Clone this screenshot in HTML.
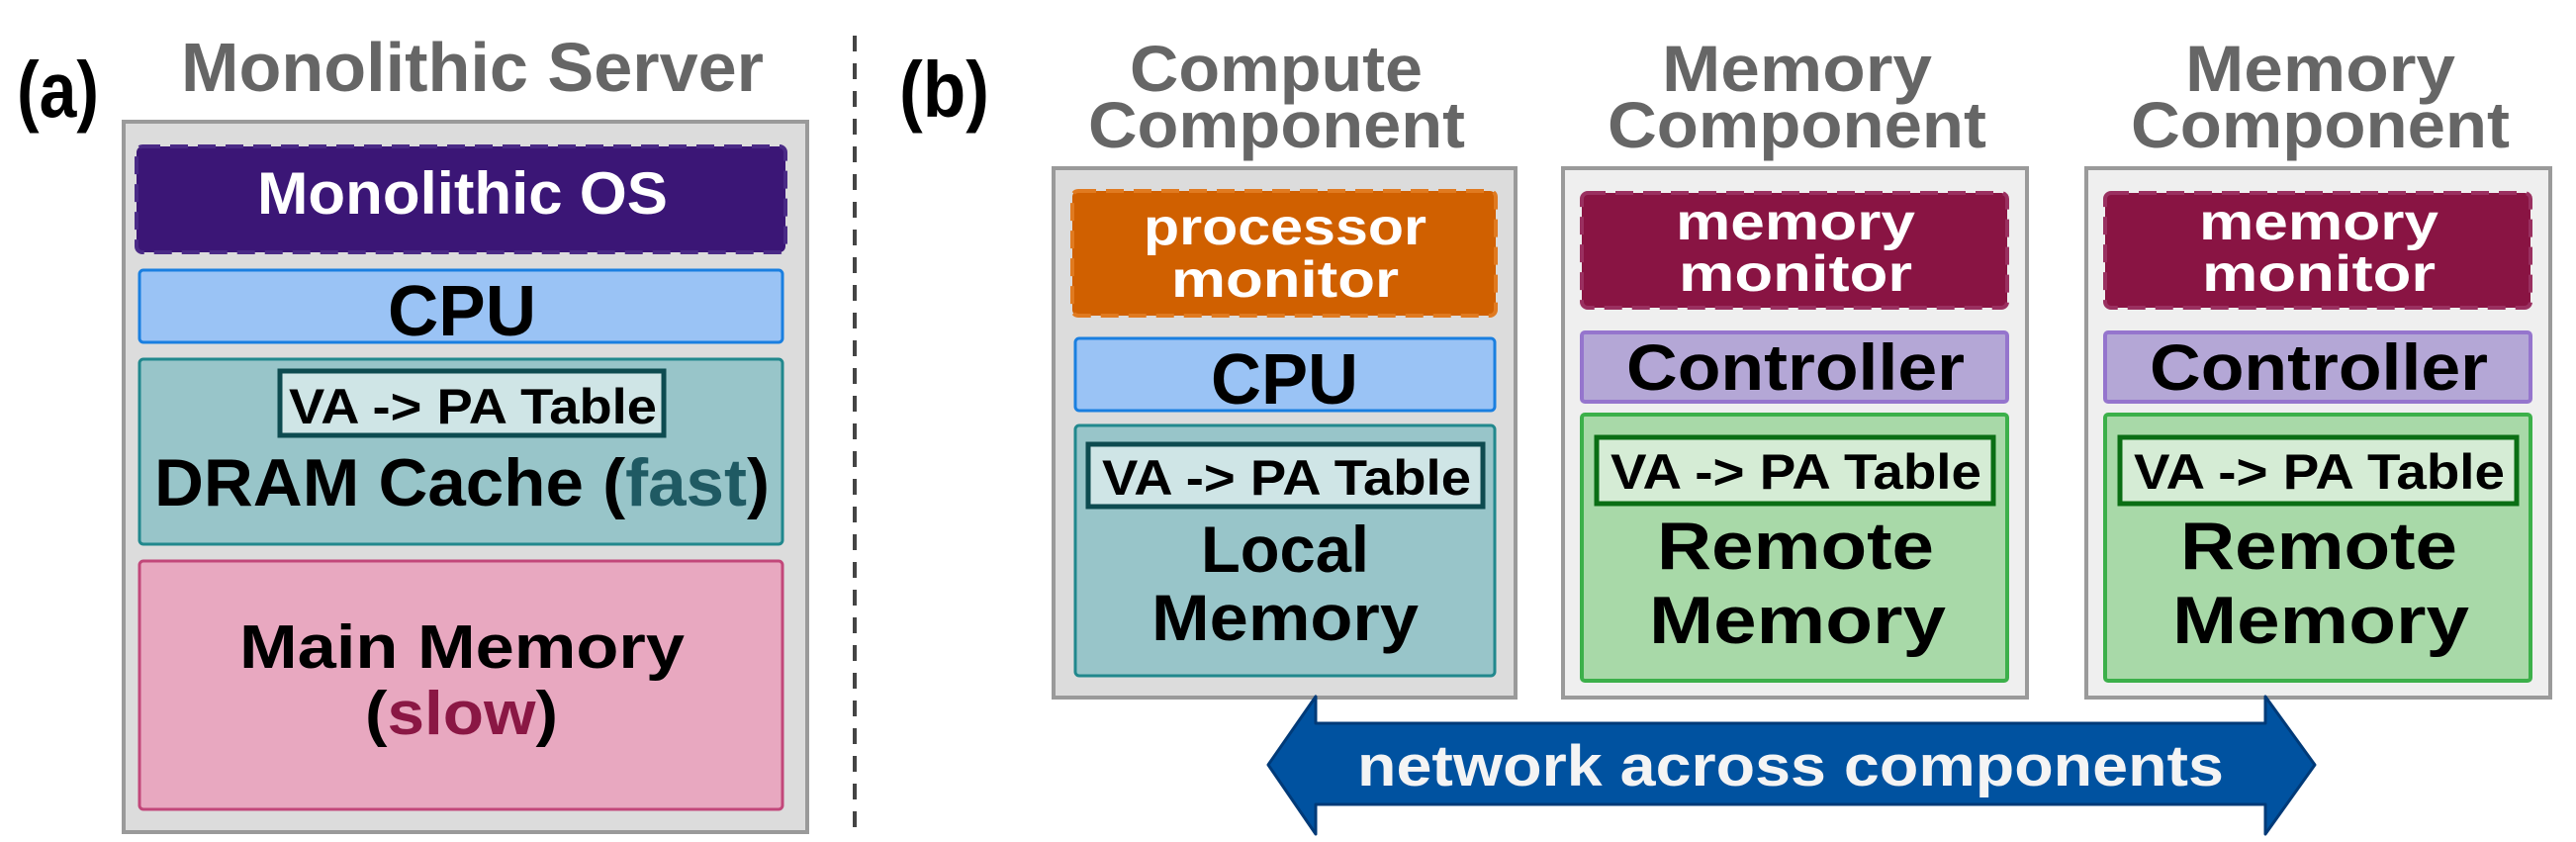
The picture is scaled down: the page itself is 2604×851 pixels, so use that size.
<!DOCTYPE html>
<html><head><meta charset="utf-8"><style>
html,body{margin:0;padding:0;background:#fff;}
svg{display:block;}
text{font-family:"Liberation Sans",sans-serif;font-weight:bold;}
</style></head><body>
<svg width="2604" height="851" viewBox="0 0 2604 851" xmlns="http://www.w3.org/2000/svg">
<!-- (a) -->
<text x="17" y="118" font-size="80" fill="#000" textLength="83" lengthAdjust="spacingAndGlyphs">(a)</text>
<text x="183" y="92" font-size="70" fill="#666" textLength="589" lengthAdjust="spacingAndGlyphs">Monolithic Server</text>
<rect x="125" y="123" width="691" height="718" fill="#dcdcdc" stroke="#9a9a9a" stroke-width="4"/>
<rect x="138" y="148" width="656" height="107" rx="6" fill="#3b1676" stroke="#4a2a86" stroke-width="4" stroke-dasharray="18,10"/>
<text x="260" y="216" font-size="60" fill="#fff" textLength="415" lengthAdjust="spacingAndGlyphs">Monolithic OS</text>
<rect x="141" y="273" width="650" height="73" rx="4" fill="#9ac3f5" stroke="#1a7fe0" stroke-width="3"/>
<text x="392" y="339" font-size="72" fill="#000" textLength="150" lengthAdjust="spacingAndGlyphs">CPU</text>
<rect x="141" y="363" width="650" height="187" rx="4" fill="#98c5c9" stroke="#21888d" stroke-width="3"/>
<rect x="283" y="375" width="388" height="65" fill="#cfe5e6" stroke="#0d4b50" stroke-width="5"/>
<text x="292" y="428" font-size="50" fill="#000" textLength="372" lengthAdjust="spacingAndGlyphs">VA -&gt; PA Table</text>
<text x="156" y="511" font-size="68" fill="#000" textLength="622" lengthAdjust="spacingAndGlyphs">DRAM Cache (<tspan fill="#1f5a63">fast</tspan>)</text>
<rect x="141" y="567" width="650" height="251" rx="4" fill="#e8a8c0" stroke="#c2477a" stroke-width="3"/>
<text x="242" y="675" font-size="62" fill="#000" textLength="450" lengthAdjust="spacingAndGlyphs">Main Memory</text>
<text x="369" y="742" font-size="62" fill="#000" textLength="195" lengthAdjust="spacingAndGlyphs">(<tspan fill="#8a1744">slow</tspan>)</text>
<!-- divider -->
<line x1="864" y1="36" x2="864" y2="843" stroke="#444" stroke-width="4" stroke-dasharray="16,12"/>
<!-- (b) -->
<text x="909" y="118" font-size="80" fill="#000" textLength="91" lengthAdjust="spacingAndGlyphs">(b)</text>
<!-- Compute component -->
<text x="1142" y="92" font-size="66" fill="#666" textLength="296" lengthAdjust="spacingAndGlyphs">Compute</text>
<text x="1100" y="149" font-size="66" fill="#666" textLength="381" lengthAdjust="spacingAndGlyphs">Component</text>
<rect x="1065" y="170" width="467" height="535" fill="#dcdcdc" stroke="#9a9a9a" stroke-width="4"/>
<rect x="1084" y="193" width="428" height="126" rx="6" fill="#d06000" stroke="#e07a20" stroke-width="4" stroke-dasharray="18,10"/>
<text x="1156" y="247" font-size="52" fill="#fff" textLength="286" lengthAdjust="spacingAndGlyphs">processor</text>
<text x="1184" y="300" font-size="52" fill="#fff" textLength="230" lengthAdjust="spacingAndGlyphs">monitor</text>
<rect x="1087" y="342" width="424" height="73" rx="4" fill="#9ac3f5" stroke="#1a7fe0" stroke-width="3"/>
<text x="1224" y="408" font-size="72" fill="#000" textLength="149" lengthAdjust="spacingAndGlyphs">CPU</text>
<rect x="1087" y="430" width="424" height="253" rx="4" fill="#98c5c9" stroke="#21888d" stroke-width="3"/>
<rect x="1100" y="449" width="399" height="63" fill="#cfe5e6" stroke="#0d4b50" stroke-width="5"/>
<text x="1114" y="500" font-size="50" fill="#000" textLength="373" lengthAdjust="spacingAndGlyphs">VA -&gt; PA Table</text>
<text x="1214" y="578" font-size="66" fill="#000" textLength="170" lengthAdjust="spacingAndGlyphs">Local</text>
<text x="1164" y="647" font-size="66" fill="#000" textLength="270" lengthAdjust="spacingAndGlyphs">Memory</text>
<!-- Memory component 1 -->
<g transform="translate(-529,0)">
<text x="2209" y="92" font-size="66" fill="#666" textLength="273" lengthAdjust="spacingAndGlyphs">Memory</text>
<text x="2154" y="149" font-size="66" fill="#666" textLength="383" lengthAdjust="spacingAndGlyphs">Component</text>
<rect x="2109" y="170" width="469" height="535" fill="#efefef" stroke="#9a9a9a" stroke-width="4"/>
<rect x="2128" y="195" width="430" height="116" rx="6" fill="#891443" stroke="#9a3060" stroke-width="4" stroke-dasharray="18,10"/>
<text x="2223" y="242" font-size="52" fill="#fff" textLength="242" lengthAdjust="spacingAndGlyphs">memory</text>
<text x="2226" y="294" font-size="52" fill="#fff" textLength="236" lengthAdjust="spacingAndGlyphs">monitor</text>
<rect x="2128" y="336" width="430" height="70" rx="3" fill="#b4a7d6" stroke="#9575cd" stroke-width="4"/>
<text x="2173" y="394" font-size="66" fill="#000" textLength="342" lengthAdjust="spacingAndGlyphs">Controller</text>
<rect x="2128" y="419" width="430" height="269" rx="3" fill="#a8d9a8" stroke="#3cb04a" stroke-width="4"/>
<rect x="2143" y="442" width="401" height="67" fill="#d5ecd5" stroke="#0a6e14" stroke-width="5"/>
<text x="2157" y="494" font-size="50" fill="#000" textLength="375" lengthAdjust="spacingAndGlyphs">VA -&gt; PA Table</text>
<text x="2204" y="575" font-size="68" fill="#000" textLength="280" lengthAdjust="spacingAndGlyphs">Remote</text>
<text x="2196" y="650" font-size="68" fill="#000" textLength="300" lengthAdjust="spacingAndGlyphs">Memory</text>
</g>
<!-- Memory component 2 -->
<g>
<text x="2209" y="92" font-size="66" fill="#666" textLength="273" lengthAdjust="spacingAndGlyphs">Memory</text>
<text x="2154" y="149" font-size="66" fill="#666" textLength="383" lengthAdjust="spacingAndGlyphs">Component</text>
<rect x="2109" y="170" width="469" height="535" fill="#efefef" stroke="#9a9a9a" stroke-width="4"/>
<rect x="2128" y="195" width="430" height="116" rx="6" fill="#891443" stroke="#9a3060" stroke-width="4" stroke-dasharray="18,10"/>
<text x="2223" y="242" font-size="52" fill="#fff" textLength="242" lengthAdjust="spacingAndGlyphs">memory</text>
<text x="2226" y="294" font-size="52" fill="#fff" textLength="236" lengthAdjust="spacingAndGlyphs">monitor</text>
<rect x="2128" y="336" width="430" height="70" rx="3" fill="#b4a7d6" stroke="#9575cd" stroke-width="4"/>
<text x="2173" y="394" font-size="66" fill="#000" textLength="342" lengthAdjust="spacingAndGlyphs">Controller</text>
<rect x="2128" y="419" width="430" height="269" rx="3" fill="#a8d9a8" stroke="#3cb04a" stroke-width="4"/>
<rect x="2143" y="442" width="401" height="67" fill="#d5ecd5" stroke="#0a6e14" stroke-width="5"/>
<text x="2157" y="494" font-size="50" fill="#000" textLength="375" lengthAdjust="spacingAndGlyphs">VA -&gt; PA Table</text>
<text x="2204" y="575" font-size="68" fill="#000" textLength="280" lengthAdjust="spacingAndGlyphs">Remote</text>
<text x="2196" y="650" font-size="68" fill="#000" textLength="300" lengthAdjust="spacingAndGlyphs">Memory</text>
</g>
<!-- network arrow -->
<polygon points="1282,773 1330,704 1330,731 2290,731 2290,704 2340,773 2290,843 2290,813 1330,813 1330,843" fill="#0052a0" stroke="#003a78" stroke-width="3" stroke-linejoin="round"/>
<text x="1372" y="794" font-size="58" fill="#f4f4f4" textLength="876" lengthAdjust="spacingAndGlyphs">network across components</text>
</svg>
</body></html>
